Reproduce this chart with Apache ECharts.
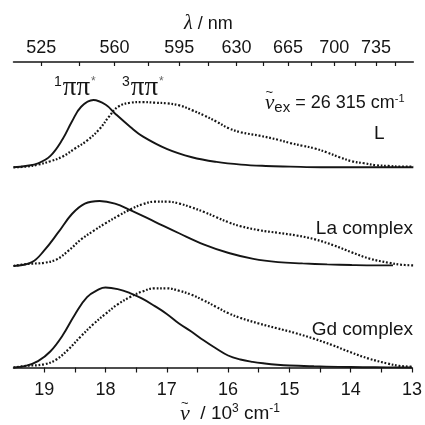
<!DOCTYPE html>
<html>
<head>
<meta charset="utf-8">
<script src="https://cdn.jsdelivr.net/npm/echarts@6/dist/echarts.min.js"></script>
<style>
html, body { margin: 0; background: #fff; }
#main { width: 425px; height: 425px; }
</style>
</head>
<body>
<div id="main"></div>
<script>
// wavenumber in 10^3 cm-1, intensity normalised to the 1ππ* / 3ππ* maximum
const lSolidX = [19.5, 19.3, 19.1, 18.9, 18.7, 18.55, 18.4, 18.2, 18.0, 17.85, 17.6, 17.4, 17.0, 16.6, 16.2, 15.8, 15.4, 15.0, 14.5, 14.0, 13.5, 13.0];
const lSolidY = [0.0, 0.02, 0.06, 0.17, 0.42, 0.68, 0.9, 1.0, 0.93, 0.8, 0.6, 0.46, 0.27, 0.15, 0.08, 0.04, 0.02, 0.01, 0.0, 0.0, 0.0, 0.0];
const lDotX = [19.5, 19.3, 19.1, 18.9, 18.7, 18.5, 18.3, 18.1, 17.95, 17.8, 17.6, 17.4, 17.2, 17.0, 16.8, 16.6, 16.4, 16.2, 16.0, 15.8, 15.5, 15.2, 15.0, 14.8, 14.6, 14.4, 14.2, 14.0, 13.8, 13.6, 13.4, 13.2, 13.0];
const lDotY = [0.0, 0.01, 0.04, 0.09, 0.16, 0.28, 0.4, 0.57, 0.75, 0.9, 0.96, 0.97, 0.96, 0.95, 0.92, 0.85, 0.77, 0.68, 0.58, 0.52, 0.47, 0.41, 0.36, 0.32, 0.28, 0.22, 0.15, 0.09, 0.06, 0.03, 0.02, 0.01, 0.01];

const laSolidX = [19.5, 19.2, 19.0, 18.77, 18.55, 18.34, 18.1, 17.85, 17.6, 17.2, 16.8, 16.4, 16.0, 15.6, 15.2, 14.8, 14.4, 14.0, 13.6, 13.33];
const laSolidY = [0.0, 0.06, 0.24, 0.52, 0.8, 0.96, 1.0, 0.96, 0.86, 0.68, 0.5, 0.33, 0.2, 0.11, 0.06, 0.04, 0.025, 0.015, 0.01, 0.01];
const laDotX = [19.5, 19.3, 19.0, 18.8, 18.6, 18.4, 18.2, 18.0, 17.8, 17.6, 17.4, 17.2, 17.0, 16.8, 16.6, 16.4, 16.2, 16.0, 15.8, 15.5, 15.2, 14.9, 14.6, 14.3, 14.0, 13.7, 13.4, 13.2, 13.0];
const laDotY = [0.0, 0.03, 0.05, 0.1, 0.24, 0.41, 0.54, 0.66, 0.77, 0.87, 0.95, 0.99, 0.99, 0.96, 0.9, 0.83, 0.75, 0.67, 0.61, 0.55, 0.51, 0.47, 0.41, 0.32, 0.21, 0.11, 0.05, 0.02, 0.01];

const gdSolidX = [19.5, 19.3, 19.1, 18.9, 18.7, 18.5, 18.3, 18.1, 18.0, 17.8, 17.6, 17.4, 17.2, 17.0, 16.8, 16.6, 16.4, 16.2, 16.0, 15.8, 15.6, 15.4, 15.2, 15.0, 14.6, 14.2, 13.8, 13.4, 13.0];
const gdSolidY = [0.0, 0.02, 0.08, 0.2, 0.4, 0.66, 0.88, 0.98, 1.0, 0.98, 0.93, 0.86, 0.77, 0.67, 0.55, 0.45, 0.34, 0.24, 0.15, 0.1, 0.07, 0.05, 0.035, 0.025, 0.015, 0.008, 0.004, 0.002, 0.0];
const gdDotX = [19.5, 19.3, 19.0, 18.8, 18.6, 18.4, 18.2, 18.0, 17.8, 17.6, 17.4, 17.2, 17.0, 16.8, 16.6, 16.4, 16.2, 16.0, 15.8, 15.5, 15.2, 14.9, 14.6, 14.3, 14.0, 13.7, 13.4, 13.2, 13.0];
const gdDotY = [0.0, 0.02, 0.04, 0.1, 0.23, 0.39, 0.54, 0.67, 0.79, 0.88, 0.95, 0.99, 0.99, 0.96, 0.91, 0.84, 0.76, 0.68, 0.62, 0.55, 0.49, 0.43, 0.36, 0.28, 0.19, 0.11, 0.05, 0.02, 0.01];

// axis ticks
const nuLabels = [19, 18, 17, 16, 15, 14, 13];
const nuTicks = [19, 18.5, 18, 17.5, 17, 16.5, 16, 15.5, 15, 14.5, 14, 13.5, 13];
const lambdaLabels = [525, 560, 595, 630, 665, 700, 735];
const lambdaTicks = [525, 542.5, 560, 577.5, 595, 612.5, 630, 647.5, 665, 682.5, 700, 717.5, 735, 752.5];

const ink = '#151515';
const sans = 'Liberation Sans';
const serif = 'Liberation Serif';

// nm -> 10^3 cm-1
function toNu(nm) { return 1e4 / nm; }

function curve(x, y, idx, dotted) {
    return {
        type: 'line',
        xAxisIndex: idx,
        yAxisIndex: idx,
        data: x.map((v, i) => [v, y[i]]),
        showSymbol: false,
        smooth: 0.4,
        clip: false,
        silent: true,
        lineStyle: dotted
            ? { color: ink, width: 2.2, type: [1.8, 1.8] }
            : { color: ink, width: 1.9 }
    };
}

// "ππ*" labels with a leading superscript multiplicity
function stateLabel(mult, left) {
    return {
        type: 'text', left: left, top: 74,
        style: {
            text: '{s|' + mult + '}{p|ππ}{a|*}',
            rich: {
                s: { fontFamily: sans, fontSize: 14, fill: ink, padding: [0, 1, 10, 0] },
                p: { fontFamily: serif, fontSize: 27, fill: ink },
                a: { fontFamily: sans, fontSize: 12, fill: '#666', padding: [0, 0, 12, 1] }
            }
        }
    };
}

const chart = echarts.init(document.getElementById('main'));
chart.setOption({
    animation: false,
    backgroundColor: '#fff',
    grid: [
        { left: 13.5, right: 11.7, top: 93.3, bottom: 257.7 },
        { left: 13.5, right: 11.7, top: 194.5, bottom: 159 },
        { left: 13.5, right: 11.7, top: 279.5, bottom: 57.5 }
    ],
    xAxis: [
        {
            gridIndex: 0, type: 'value', min: 13, max: 19.5, inverse: true,
            position: 'top', offset: 31.3,
            axisLine: { onZero: false, lineStyle: { color: ink, width: 1.5 } },
            axisTick: { inside: true, length: 4, customValues: lambdaTicks.map(toNu), lineStyle: { color: ink, width: 1.2 } },
            axisLabel: {
                customValues: lambdaLabels.map(toNu),
                formatter: v => String(Math.round(1e4 / v)),
                color: ink, fontFamily: sans, fontSize: 18, margin: 5
            },
            splitLine: { show: false },
            name: '{l|λ}{t| / nm}',
            nameLocation: 'middle',
            nameGap: 28,
            nameMoveOverlap: false,
            nameTextStyle: {
                padding: [0, 10, 0, 0],
                rich: {
                    l: { fontFamily: serif, fontStyle: 'italic', fontSize: 20, color: ink },
                    t: { fontFamily: sans, fontSize: 18, color: ink }
                }
            }
        },
        {
            gridIndex: 1, type: 'value', min: 13, max: 19.5, inverse: true, show: false
        },
        {
            gridIndex: 2, type: 'value', min: 13, max: 19.5, inverse: true,
            position: 'bottom',
            axisLine: { onZero: false, lineStyle: { color: ink, width: 1.5 } },
            axisTick: { length: 5, customValues: nuTicks, lineStyle: { color: ink, width: 1.2 } },
            axisLabel: { customValues: nuLabels, color: ink, fontFamily: sans, fontSize: 18, margin: 14 },
            splitLine: { show: false }
        }
    ],
    yAxis: [
        { gridIndex: 0, type: 'value', min: 0, max: 1.1, show: false },
        { gridIndex: 1, type: 'value', min: 0, max: 1.1, show: false },
        { gridIndex: 2, type: 'value', min: 0, max: 1.1, show: false }
    ],
    series: [
        curve(lSolidX, lSolidY, 0, false),
        curve(lDotX, lDotY, 0, true),
        curve(laSolidX, laSolidY, 1, false),
        curve(laDotX, laDotY, 1, true),
        curve(gdSolidX, gdSolidY, 2, false),
        curve(gdDotX, gdDotY, 2, true)
    ],
    graphic: [
        stateLabel('1', 54),
        stateLabel('3', 122),
        // excitation wavenumber
        {
            type: 'text', left: 265, top: 93,
            style: {
                text: '{n|ν}{b|ex}{t| = 26 315 cm}{s|-1}',
                rich: {
                    n: { fontFamily: serif, fontStyle: 'italic', fontSize: 21, fill: ink },
                    b: { fontFamily: sans, fontSize: 15, fill: ink, padding: [9, 0, 0, 0] },
                    t: { fontFamily: sans, fontSize: 18, fill: ink },
                    s: { fontFamily: sans, fontSize: 11, fill: ink, padding: [0, 0, 10, 0] }
                }
            }
        },
        { type: 'text', left: 265.5, top: 86, style: { text: '~', fontFamily: sans, fontSize: 13, fill: ink } },
        { type: 'text', left: 374, top: 124, style: { text: 'L', fontFamily: sans, fontSize: 19, fill: ink } },
        { type: 'text', right: 12, top: 219, style: { text: 'La complex', fontFamily: sans, fontSize: 19, fill: ink } },
        { type: 'text', right: 12, top: 320, style: { text: 'Gd complex', fontFamily: sans, fontSize: 19, fill: ink } },
        // bottom axis title
        {
            type: 'text', left: 180, top: 403,
            style: {
                text: '{n|ν}{t|  / 10}{s|3}{t| cm}{s|-1}',
                rich: {
                    n: { fontFamily: serif, fontStyle: 'italic', fontSize: 22, fill: ink },
                    t: { fontFamily: sans, fontSize: 19, fill: ink },
                    s: { fontFamily: sans, fontSize: 12, fill: ink, padding: [0, 0, 10, 0] }
                }
            }
        },
        { type: 'text', left: 181, top: 397, style: { text: '~', fontFamily: sans, fontSize: 13, fill: ink } }
    ]
});
</script>
</body>
</html>
